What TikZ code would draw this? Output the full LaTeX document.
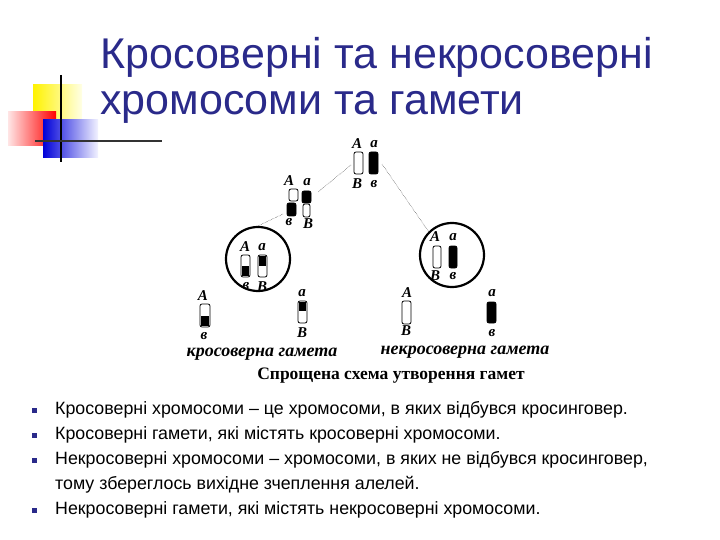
\documentclass[tikz,border=0pt]{standalone}
\usepackage{fontspec}
\setmainfont{Liberation Serif}
\newfontfamily\sansf{Liberation Sans}
\usetikzlibrary{shadings}
\definecolor{titleblue}{HTML}{2A2A8A}
\begin{document}
\begin{tikzpicture}[x=1pt,y=-1pt,
  lbl/.style={font=\itshape\bfseries\fontsize{15}{15}\selectfont,inner sep=0pt},
  chw/.style={draw,thick,fill=white,rounded corners=2pt},
  chb/.style={draw,thick,fill=black,rounded corners=2pt},
  dotl/.style={densely dotted,thin},
  ring/.style={draw,line width=2.2pt,circle},
  btxt/.style={font=\sansf\fontsize{17.8}{25}\selectfont,anchor=west,inner sep=0pt,align=left},
  bul/.style={fill=titleblue,minimum size=5pt,inner sep=0pt}]
\useasboundingbox (0,0) rectangle (720,540);
% logo
\shade[left color=yellow!90!orange, right color=yellow!10] (33,85) rectangle (82,122);
\shade[left color=red!10, right color=red] (8,112) rectangle (56,146);
\shade[left color=blue!85!black, right color=blue!5] (43,120) rectangle (98,158);
\draw[line width=1.5pt] (61,75) -- (61,162);
\draw[line width=1.2pt,black!80] (35,141) -- (162,141);
% title
\node[anchor=west,text=titleblue,font=\sansf\fontsize{43}{46}\selectfont,align=left,inner sep=0pt] (title) at (100,80) {Кросоверні та некросоверні\\хромосоми та гамети};
% top pair
\draw[chw] (354,152) rectangle (363,174); \draw[chb] (369,152) rectangle (378,174);
\node[lbl] (tA) at (357,144) {A}; \node[lbl] (ta) at (374,144) {a};
\node[lbl] (tB) at (357,184) {B}; \node[lbl] (tb) at (374,184) {в};
% crossing pair
\draw[chw] (289,189) rectangle (298,201); \draw[chb] (302,191) rectangle (311,203);
\draw[chb] (287,203) rectangle (296,216); \draw[chw] (303,204) rectangle (310,217);
\node[lbl] (cA) at (289,181) {A}; \node[lbl] (ca) at (307,182) {a};
\node[lbl] (cb) at (289,222) {в}; \node[lbl] (cB) at (308,224) {B};
\coordinate (c1) at (318,192); \coordinate (c2) at (283,214);
\coordinate (t1) at (351,165); \coordinate (t2) at (382,164);
% circles
\node[ring,minimum size=64pt] (L) at (258,259) {};
\node[ring,minimum size=64pt] (R) at (452,255) {};
\draw[dotl] (t1) -- (c1); \draw[dotl] (t2) -- (R.north west); \draw[dotl] (c2) -- (L.north);
% left circle chromosomes
\draw[chw] (241,255) rectangle (250,277); \fill (242,266) rectangle (249,276);
\draw[chw] (258,255) rectangle (267,277); \fill (259,256) rectangle (266,266);
\node[lbl] (lA) at (245,247) {A}; \node[lbl] (la) at (262,247) {a};
\node[lbl] (lb) at (246,286) {в}; \node[lbl] (lB) at (262,287) {B};
% right circle chromosomes
\draw[chw] (433,246) rectangle (441,268); \draw[chb] (449,246) rectangle (457,268);
\node[lbl] (rA) at (435,237) {A}; \node[lbl] (ra) at (453,237) {a};
\node[lbl] (rB) at (435,276) {B}; \node[lbl] (rb) at (453,276) {в};
% gametes
\draw[chw] (200,304) rectangle (210,327); \fill (201,316) rectangle (209,326);
\node[lbl] (g1A) at (203,296) {A}; \node[lbl] (g1b) at (204,336) {в};
\draw[chw] (298,301) rectangle (307,323); \fill (299,302) rectangle (306,311);
\node[lbl] (g2a) at (302,293) {a}; \node[lbl] (g2B) at (302,333) {B};
\draw[chw] (402,301) rectangle (411,324);
\node[lbl] (g3A) at (407,293) {A}; \node[lbl] (g3B) at (406,331) {B};
\draw[chb] (487,302) rectangle (496,323);
\node[lbl] (g4a) at (492,293) {a}; \node[lbl] (g4b) at (492,333) {в};
\node[lbl,font=\itshape\bfseries\fontsize{18}{18}\selectfont] (kg) at (262,354) {кросоверна гамета};
\node[lbl,font=\itshape\bfseries\fontsize{18}{18}\selectfont] (ng) at (465,352) {некросоверна гамета};
\node[lbl,font=\bfseries\fontsize{17.5}{17.5}\selectfont] (cap) at (391,376) {Спрощена схема утворення гамет};
% bullets
\node[bul] (b1) at (34,410) {}; \node[bul] (b2) at (34,435) {};
\node[bul] (b3) at (34,460) {}; \node[bul] (b4) at (34,510) {};
\node[btxt] (t1x) at (55,410) {Кросоверні хромосоми – це хромосоми, в яких відбувся кросинговер.};
\node[btxt] (t2x) at (55,435) {Кросоверні гамети, які містять кросоверні хромосоми.};
\node[btxt] (t3x) at (55,472.5) {Некросоверні хромосоми – хромосоми, в яких не відбувся кросинговер,\\тому збереглось вихідне зчеплення алелей.};
\node[btxt] (t4x) at (55,510) {Некросоверні гамети, які містять некросоверні хромосоми.};
\end{tikzpicture}
\end{document}
